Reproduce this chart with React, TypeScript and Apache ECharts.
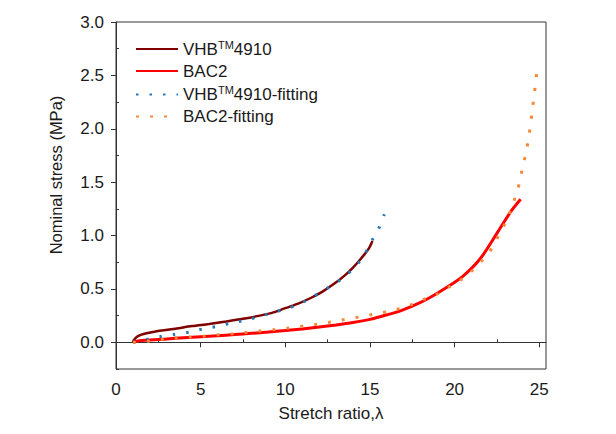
import React, { useEffect, useRef } from "react";
import * as echarts from "echarts";

const FONT = "'Liberation Sans', Arial, sans-serif";

const xMajorTicks = [0, 5, 10, 15, 20, 25];
const xMinorTicks = [2.5, 7.5, 12.5, 17.5, 22.5];
const yMajorTicks = [0, 0.5, 1.0, 1.5, 2.0, 2.5, 3.0];
const yMinorTicks = [-0.25, 0.25, 0.75, 1.25, 1.75, 2.25, 2.75];

const seriesNames = ["VHB4910", "BAC2", "VHB4910-fitting", "BAC2-fitting"];

const vhbLambda = [1.0, 1.05, 1.15, 1.3, 1.5, 1.8, 2.2, 2.7, 3.4, 4.5, 5.5, 6.5, 7.5, 8.5, 9.3, 10.0, 10.8, 11.5, 12.2, 12.9, 13.5, 14.0, 14.5, 14.9, 15.15];
const vhbStress = [0.0, 0.02, 0.04, 0.058, 0.072, 0.085, 0.097, 0.11, 0.125, 0.152, 0.172, 0.195, 0.22, 0.25, 0.28, 0.32, 0.365, 0.415, 0.475, 0.55, 0.625, 0.7, 0.79, 0.87, 0.95];

const bacLambda = [1.0, 1.3, 2.0, 3.0, 4.0, 5.0, 6.0, 7.0, 8.0, 9.0, 10.0, 11.0, 12.0, 13.0, 14.0, 15.0, 15.6, 16.8, 17.6, 18.5, 19.5, 20.5, 21.5, 22.5, 23.3, 23.9];
const bacStress = [0.0, 0.012, 0.022, 0.032, 0.042, 0.052, 0.062, 0.072, 0.084, 0.096, 0.11, 0.125, 0.143, 0.163, 0.186, 0.215, 0.24, 0.295, 0.345, 0.415, 0.51, 0.62, 0.78, 1.02, 1.22, 1.34];

const fitVhbLambda = [1.0, 1.9, 2.7, 3.5, 4.4, 5.2, 6.0, 6.8, 7.6, 8.4, 9.2, 10.0, 10.8, 11.5, 12.2, 13.0, 13.6, 14.2, 14.7, 15.1, 15.5, 15.85];
const fitVhbStress = [0.0, 0.03, 0.056, 0.075, 0.097, 0.128, 0.15, 0.18, 0.207, 0.238, 0.276, 0.31, 0.357, 0.416, 0.48, 0.557, 0.63, 0.72, 0.83, 0.95, 1.06, 1.2];

const fitBacLambda = [1.0, 1.9, 2.8, 3.6, 4.4, 5.2, 6.0, 6.9, 7.7, 8.5, 9.4, 10.2, 11.1, 11.9, 12.7, 13.5, 14.4, 15.2, 16.0, 16.8, 17.55, 18.3, 19.1, 19.8, 20.5, 21.1, 21.7, 22.2, 22.6, 23.0, 23.35, 23.6, 23.85, 24.0, 24.2, 24.35, 24.47, 24.58, 24.68, 24.78, 24.88];
const fitBacStress = [0.0, 0.01, 0.03, 0.042, 0.05, 0.058, 0.07, 0.08, 0.093, 0.106, 0.12, 0.134, 0.153, 0.17, 0.19, 0.213, 0.238, 0.262, 0.287, 0.318, 0.358, 0.41, 0.46, 0.53, 0.6, 0.68, 0.78, 0.88, 1.0, 1.12, 1.25, 1.37, 1.5, 1.63, 1.76, 1.89, 2.02, 2.16, 2.29, 2.42, 2.57];

const zip = (xs: number[], ys: number[]) => xs.map((x, i) => [x, ys[i]]);

export default function App() {
  const ref = useRef<HTMLDivElement>(null);
  useEffect(() => {
    if (!ref.current) return;
    const chart = echarts.init(ref.current, null, { renderer: "svg" });
    const axisColor = "#333";
    const textColor = "#1a1a1a";
    const commonX = { type: "value", min: 0, max: 25.4, gridIndex: 0 };
    const commonY = { type: "value", min: -0.25, max: 3.0, gridIndex: 0 };
    chart.setOption({
      animation: false,
      backgroundColor: "#ffffff",
      textStyle: { fontFamily: FONT },
      grid: {
        left: 116, top: 22, width: 430, height: 347,
        show: true, borderColor: axisColor, borderWidth: 1, backgroundColor: "transparent",
      },
      legend: {
        orient: "vertical", left: 135, top: 39, padding: 0,
        itemWidth: 42, itemHeight: 14, itemGap: 5,
        data: seriesNames,
        itemStyle: { opacity: 0 },
        textStyle: {
          fontFamily: FONT, fontSize: 17, color: textColor,
          rich: {
            n: { fontFamily: FONT, fontSize: 17, lineHeight: 20, color: textColor },
            sup: { fontFamily: FONT, fontSize: 11, lineHeight: 11, verticalAlign: "top", color: textColor },
          },
        },
        formatter: (name: string) =>
          name.startsWith("VHB") ? `{n|VHB}{sup|TM}{n|${name.slice(3)}}` : `{n|${name}}`,
      },
      xAxis: [
        {
          ...commonX,
          interval: 5,
          name: "Stretch ratio,λ", nameLocation: "middle", nameGap: 36,
          nameTextStyle: { fontFamily: FONT, fontSize: 17, color: textColor },
          axisLine: { show: true, lineStyle: { color: axisColor, width: 1 } },
          axisTick: { show: true, length: 5, customValues: xMajorTicks, lineStyle: { color: axisColor } },
          axisLabel: { show: true, customValues: xMajorTicks, margin: 12, fontFamily: FONT, fontSize: 17, color: textColor },
          splitLine: { show: false },
        },
        {
          ...commonX,
          interval: 2.5,
          axisLine: { show: false },
          axisTick: { show: true, length: 3, customValues: xMinorTicks, lineStyle: { color: axisColor } },
          axisLabel: { show: false },
          splitLine: { show: false },
        },
      ],
      yAxis: [
        {
          ...commonY,
          interval: 0.25,
          axisLine: { show: true, lineStyle: { color: axisColor, width: 1 } },
          axisTick: { show: true, length: 5, customValues: yMajorTicks, lineStyle: { color: axisColor } },
          axisLabel: {
            show: true, customValues: yMajorTicks, margin: 12, fontFamily: FONT, fontSize: 17, color: textColor,
            formatter: (v: number) => v.toFixed(1),
          },
          splitLine: { show: false },
        },
        {
          ...commonY,
          interval: 0.25,
          axisLine: { show: false },
          axisTick: { show: true, length: 3, customValues: yMinorTicks, lineStyle: { color: axisColor } },
          axisLabel: { show: false },
          splitLine: { show: false },
        },
      ],
      graphic: [
        {
          type: "text", x: 56, y: 175, rotation: Math.PI / 2,
          style: {
            text: "Nominal stress (MPa)", fontFamily: FONT, fontSize: 16.5, fill: textColor,
            align: "center", verticalAlign: "middle",
          },
        },
      ],
      series: [
        {
          name: seriesNames[0], type: "line", data: zip(vhbLambda, vhbStress),
          showSymbol: false, symbol: "none", smooth: 0.3,
          lineStyle: { color: "#7f0000", width: 2.5 }, itemStyle: { color: "#7f0000" }, z: 3,
        },
        {
          name: seriesNames[1], type: "line", data: zip(bacLambda, bacStress),
          showSymbol: false, symbol: "none", smooth: 0.3,
          lineStyle: { color: "#ff0000", width: 3 }, itemStyle: { color: "#ff0000" }, z: 3,
        },
        {
          name: seriesNames[2], type: "line", data: zip(fitVhbLambda, fitVhbStress),
          showSymbol: false, symbol: "none", smooth: 0.3,
          lineStyle: { color: "#2878b8", width: 3, type: [2.5, 11] }, itemStyle: { color: "#2878b8" }, z: 4,
        },
        {
          name: seriesNames[3], type: "line", data: zip(fitBacLambda, fitBacStress),
          showSymbol: false, symbol: "none", smooth: 0.3,
          lineStyle: { color: "#f7883a", width: 3, type: [3, 11] }, itemStyle: { color: "#f7883a" }, z: 4,
        },
      ],
    } as any);
    return () => chart.dispose();
  }, []);
  return (
    <div
      ref={ref}
      style={{ position: "fixed", left: 0, top: 0, width: 616, height: 434, background: "#fff" }}
    />
  );
}
